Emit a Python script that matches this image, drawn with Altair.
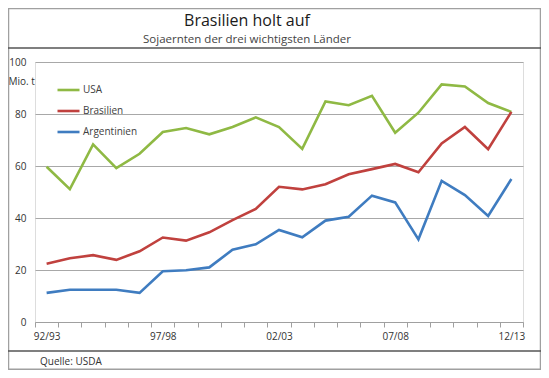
import altair as alt
import pandas as pd

seasons = ["92/93", "93/94", "94/95", "95/96", "96/97", "97/98", "98/99", "99/00",
           "00/01", "01/02", "02/03", "03/04", "04/05", "05/06", "06/07", "07/08",
           "08/09", "09/10", "10/11", "11/12", "12/13"]
usa = [59.7, 51.1, 68.3, 59.2, 64.7, 73.1, 74.6, 72.2, 75.0, 78.7, 75.0, 66.6,
       84.8, 83.4, 87.0, 72.8, 80.5, 91.4, 90.6, 84.2, 80.8]
brasilien = [22.4, 24.5, 25.7, 23.9, 27.2, 32.5, 31.3, 34.5, 39.2, 43.5, 52.0, 51.0,
             53.0, 56.8, 58.8, 60.8, 57.6, 68.7, 75.0, 66.5, 80.8]
argentinien = [11.2, 12.4, 12.4, 12.4, 11.2, 19.5, 19.9, 21.0, 27.8, 29.9, 35.4, 32.6,
               39.0, 40.5, 48.6, 46.0, 31.8, 54.3, 48.8, 40.8, 55.0]
series_names = ["USA", "Brasilien", "Argentinien"]
series_colors = ["#8fb944", "#c0413e", "#3f7cc0"]
shown_labels = ["92/93", "97/98", "02/03", "07/08", "12/13"]

title_text = "Brasilien holt auf"
subtitle_text = "Sojaernten der drei wichtigsten Länder"
source_text = "Quelle: USDA"
y_unit = "Mio. t"

rows = []
for name, vals in zip(series_names, [usa, brasilien, argentinien]):
    for s, v in zip(seasons, vals):
        rows.append({"Saison": s, "Land": name, "Wert": v})
df = pd.DataFrame(rows)

FONT = "Open Sans"
W, H = 488, 260

label_expr = "indexof(" + str(shown_labels) + ", datum.value) >= 0 ? datum.value : ''"

lines = alt.Chart(df).mark_line(strokeWidth=2.6, strokeJoin="miter").encode(
    x=alt.X("Saison:N", sort=seasons, bandPosition=0.5,
            scale=alt.Scale(type="band", paddingInner=0, paddingOuter=0),
            axis=alt.Axis(title=None, labelExpr=label_expr, tickBand="extent",
                          domainColor="#a0a0a0", tickColor="#a0a0a0", tickSize=5,
                          labelAngle=0, labelPadding=4, labelFontSize=10,
                          labelColor="#333333", labelFont=FONT, grid=False,
                          labelOverlap=False)),
    y=alt.Y("Wert:Q", scale=alt.Scale(domain=[0, 100]),
            axis=alt.Axis(values=[0, 20, 40, 60, 80, 100], title=y_unit, titleAngle=0,
                          titleAlign="left", titleBaseline="middle", titleX=-27, titleY=19,
                          titleFont=FONT, titleFontSize=10, titleFontWeight="normal",
                          titleColor="#333333",
                          domain=False, ticks=False, labelPadding=9, labelFontSize=10,
                          labelColor="#333333", labelFont=FONT,
                          gridColor="#a8a8a8", gridWidth=1.2)),
    color=alt.Color("Land:N", sort=series_names,
                    scale=alt.Scale(domain=series_names, range=series_colors),
                    legend=alt.Legend(title=None, orient="none", legendX=21, legendY=15.5,
                                      symbolType="stroke", symbolSize=484,
                                      symbolStrokeWidth=2.6, labelFont=FONT,
                                      labelFontSize=10, labelColor="#404040",
                                      labelOffset=2, rowPadding=3)),
)

one = alt.Data(values=[{"a": 1}])

frame = alt.Chart(one).mark_rect(fill=None, stroke="#a0a0a0", strokeWidth=1.5).encode(
    x=alt.value(-26.5), x2=alt.value(505.5), y=alt.value(-53.5), y2=alt.value(307.2))

header_line = alt.Chart(one).mark_rule(color="#555555", strokeWidth=1.5).encode(
    x=alt.value(-27), x2=alt.value(506), y=alt.value(-14))
footer_line = alt.Chart(one).mark_rule(color="#555555", strokeWidth=1.5).encode(
    x=alt.value(-27), x2=alt.value(506), y=alt.value(289))

title = alt.Chart(one).mark_text(font=FONT, fontSize=16, color="#1a1a1a",
                                 align="center", baseline="alphabetic").encode(
    x=alt.value(212), y=alt.value(-36.5), text=alt.value(title_text))
subtitle = alt.Chart(one).mark_text(font=FONT, fontSize=11.5, color="#444444",
                                    align="center", baseline="alphabetic").encode(
    x=alt.value(212), y=alt.value(-19.5), text=alt.value(subtitle_text))
source = alt.Chart(one).mark_text(font=FONT, fontSize=10, color="#333333",
                                  align="left", baseline="alphabetic").encode(
    x=alt.value(5), y=alt.value(303), text=alt.value(source_text))

chart = alt.layer(frame, header_line, footer_line, title, subtitle, source, lines).properties(
    width=W, height=H,
    autosize=alt.AutoSizeParams(type="none"),
    padding={"left": 27, "top": 54, "right": 18, "bottom": 48},
).configure_view(stroke=None).configure(background="white")

chart.save("out.html", embed_options={"renderer": "svg", "actions": False})
